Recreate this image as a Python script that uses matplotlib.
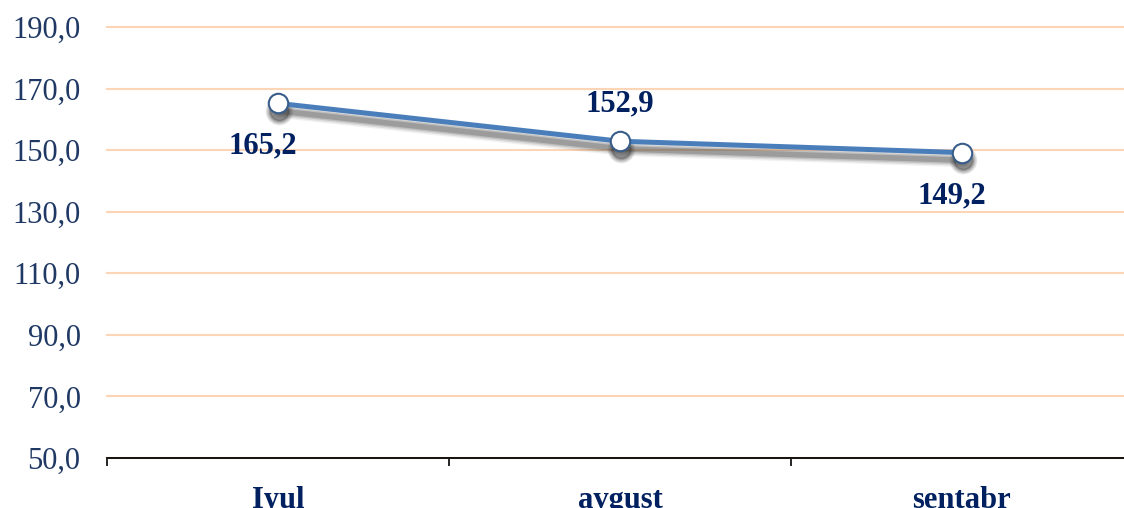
import numpy as np
import matplotlib.pyplot as plt
from matplotlib.transforms import offset_copy

plt.rcParams['font.family'] = ['Liberation Serif', 'DejaVu Serif']

months = ['Iyul', 'avgust', 'sentabr']
values = [165.2, 152.9, 149.2]
# where each value label sits relative to its point (points)
label_offsets = [(-11, -31), (0, 27), (-7, -31)]

yticks = np.arange(50, 191, 20)

fig = plt.figure(figsize=(11.24, 5.08), dpi=100)
ax = fig.add_axes([107/1124, 50/508, 1026/1124, 431/508])
x = np.arange(len(months))

# soft grey shadow under the line
for lw, a in [(10, 0.08), (8, 0.12), (6, 0.18), (4, 0.28)]:
    tr = offset_copy(ax.transData, fig=fig, x=1, y=-5.5, units='points')
    ax.plot(x, values, color='#444444', lw=lw, alpha=a, transform=tr,
            solid_capstyle='round', zorder=2)
    ax.plot(x, values, 'o', color='#222222', ms=9 + lw, alpha=a,
            transform=tr, zorder=2)

ax.plot(x, values, color='#4A7EBB', lw=3.6, zorder=3,
        marker='o', ms=14, mfc='white', mec='#385D8A', mew=1.5)

for xi, v, off in zip(x, values, label_offsets):
    ax.annotate(f'{v:.1f}'.replace('.', ','), (xi, v), xytext=off,
                textcoords='offset points', ha='center', va='center',
                fontsize=22, fontweight='bold', color='#002060', zorder=4)

ax.set_xlim(-0.5, 2.5)
ax.set_ylim(50, 190)
ax.set_yticks(yticks)
ax.set_yticklabels([f'{t:.1f}'.replace('.', ',') for t in yticks])
ax.tick_params(axis='y', length=0, pad=19, labelsize=22, labelcolor='#1F3864')

ax.set_xticks(x)
ax.set_xticklabels(months, fontsize=22, fontweight='bold', color='#002060')
ax.set_xticks([-0.5, 0.5, 1.5, 2.5], minor=True)
ax.tick_params(axis='x', which='major', length=0, pad=20)
ax.tick_params(axis='x', which='minor', length=6, width=1.2, color='black')

ax.yaxis.grid(True, color='#FBD5B5', lw=1.5)
for gl in ax.get_ygridlines():
    gl.set_clip_on(False)
ax.set_axisbelow(True)
for s in ['left', 'top', 'right']:
    ax.spines[s].set_visible(False)
ax.spines['bottom'].set_color('black')
ax.spines['bottom'].set_linewidth(1.3)

fig.savefig('out.png', dpi=100)
